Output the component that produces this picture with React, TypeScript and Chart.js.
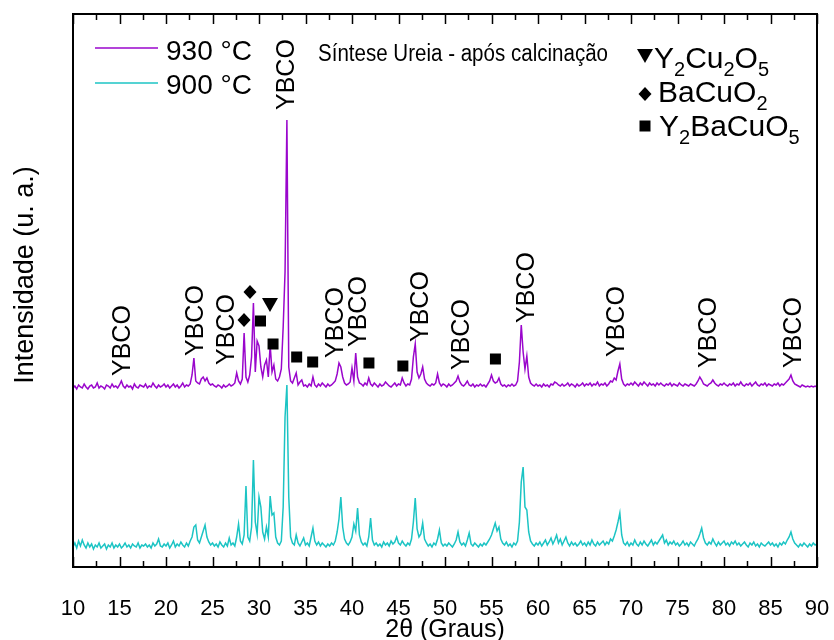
import React, { useEffect, useRef } from "react";
import { Chart, registerables } from "chart.js";

Chart.register(...registerables);

const FONT = "'Liberation Sans', Arial, Helvetica, sans-serif";

// 2θ grid: 10° → 90° in 0.2° steps
const ANGLE_START = 10;
const ANGLE_STEP = 0.2;

// Intensity (a.u., offset-stacked), 930 °C sample
const I_930 = [
  179,181,178,182,180,179,183,180,178,181,182,179,180,184,179,181,180,178,182,181,179,183,180,181,179,
  182,186,181,179,182,180,181,178,183,180,179,182,181,180,183,179,181,180,184,181,179,182,180,181,183,
  180,182,179,181,183,180,182,179,181,184,180,182,181,183,192,209,186,184,183,188,190,186,189,184,182,
  183,181,180,182,181,179,182,180,181,183,181,182,184,194,186,183,188,234,190,185,192,210,264,195,226,
  221,200,190,202,207,190,222,195,202,188,186,190,198,240,295,447,200,186,184,189,194,182,185,187,181,
  182,180,183,181,190,182,180,183,181,184,182,180,183,181,182,184,186,193,204,200,190,184,182,183,185,
  199,186,214,190,184,183,181,184,182,189,183,181,184,182,180,183,181,182,185,183,181,180,182,184,181,
  183,182,189,184,181,183,182,188,210,223,195,189,193,200,188,184,182,181,183,182,184,193,184,181,183,
  182,180,183,181,182,184,186,191,185,182,181,183,186,182,181,183,180,182,181,183,181,182,180,183,186,
  192,186,184,185,189,183,181,182,180,182,181,183,181,182,186,205,242,215,198,211,190,184,182,181,183,
  181,182,180,183,181,182,180,183,182,185,184,182,181,183,181,182,184,181,183,182,180,183,181,182,184,
  181,183,182,184,181,183,182,185,181,183,182,184,181,183,186,185,189,187,196,203,188,183,181,183,182,
  184,182,185,183,181,184,182,185,183,181,184,182,183,181,184,182,184,182,181,183,182,184,181,183,182,
  181,184,182,181,183,182,181,183,182,181,183,186,190,187,183,182,181,183,184,187,184,182,181,183,182,
  184,182,181,183,182,184,181,183,182,185,182,181,183,182,184,181,183,185,182,181,183,182,184,181,183,
  182,181,183,182,184,181,183,182,184,186,188,192,186,183,182,181,180,182,181,180,181,180,181,180,181,180,
];

// Intensity (a.u.), 900 °C sample
const I_900 = [
  20,24,19,26,21,27,22,19,24,20,23,18,22,20,24,19,21,23,18,22,20,24,19,22,20,
  23,19,21,24,20,22,19,23,21,20,24,19,22,21,23,20,22,19,24,21,23,28,21,20,23,
  21,24,19,22,26,20,23,21,25,22,20,24,21,26,30,40,42,27,24,30,36,42,30,25,22,
  24,21,23,20,25,22,20,24,21,29,22,24,21,30,43,26,23,32,81,30,26,40,107,45,33,
  70,60,35,28,40,30,71,52,54,30,24,22,26,60,150,182,70,30,24,22,32,24,21,25,29,
  22,24,21,30,39,26,22,25,21,24,22,20,23,21,24,22,26,35,48,70,40,28,24,22,25,
  30,43,36,59,32,25,22,24,21,30,49,27,22,24,21,23,20,25,22,24,21,26,23,25,30,
  24,22,26,23,21,24,22,28,45,69,38,30,33,44,28,24,21,23,20,24,22,28,37,24,21,
  23,21,24,22,20,23,27,35,25,22,24,21,27,34,23,21,24,22,20,23,21,24,22,25,28,
  32,38,44,36,40,28,24,22,25,21,23,20,24,22,26,45,85,100,60,57,35,26,23,21,24,
  22,25,21,24,27,22,25,29,23,27,32,24,28,22,26,30,24,21,25,22,24,21,23,26,22,
  24,21,25,22,27,23,21,25,22,24,26,22,25,23,28,26,31,37,45,54,32,24,22,25,21,
  24,22,27,23,21,25,22,26,23,21,24,27,22,25,23,26,29,32,24,27,22,25,23,26,22,
  24,21,23,26,22,24,21,25,23,21,25,28,33,39,29,24,22,25,23,28,24,21,25,22,24,
  26,22,24,21,25,23,26,22,24,21,23,25,22,20,24,22,25,21,23,20,24,22,21,23,25,
  22,24,21,23,20,24,22,25,23,27,30,35,28,24,22,20,23,21,24,22,20,23,21,24,22,23,
];

const X_TICKS = [10, 15, 20, 25, 30, 35, 40, 45, 50, 55, 60, 65, 70, 75, 80, 85, 90];
const X_MINOR = [12.5, 17.5, 22.5, 27.5, 32.5, 37.5, 42.5, 47.5, 52.5, 57.5, 62.5, 67.5, 72.5, 77.5, 82.5, 87.5];

// "YBCO" peak labels: 2θ position and intensity at which the label starts
const YBCO_X = [15.38, 23.23, 26.56, 33.0, 38.28, 40.75, 47.42, 51.83, 58.82, 68.49, 78.39, 87.53];
const YBCO_Y = [191, 211, 202, 457, 209, 220, 225, 197, 244, 210, 199, 199];

// phase markers
const MARK_KIND = ["diamond", "diamond", "square", "triangle", "square", "square", "square", "square", "square", "square"];
const MARK_X = [29.03, 28.39, 30.16, 31.18, 31.51, 34.05, 35.77, 41.82, 45.47, 55.42];
const MARK_Y = [275, 247, 246, 262, 223, 210, 205, 204, 201, 208];

const SERIES_LABELS = ["930 °C", "900 °C"];
const SERIES_COLORS = ["#9a06cc", "#1cc4c4"];
const PHASES: [string, boolean][][] = [
  [["Y", false], ["2", true], ["Cu", false], ["2", true], ["O", false], ["5", true]],
  [["BaCuO", false], ["2", true]],
  [["Y", false], ["2", true], ["BaCuO", false], ["5", true]],
];
const PHASE_KIND = ["triangle", "diamond", "square"];

function drawMarker(ctx: CanvasRenderingContext2D, kind: string, x: number, y: number) {
  ctx.beginPath();
  if (kind === "diamond") {
    ctx.moveTo(x, y - 7); ctx.lineTo(x + 6.5, y); ctx.lineTo(x, y + 7); ctx.lineTo(x - 6.5, y);
  } else if (kind === "square") {
    ctx.rect(x - 5.5, y - 5.5, 11, 11);
  } else {
    ctx.moveTo(x - 8, y - 7); ctx.lineTo(x + 8, y - 7); ctx.lineTo(x, y + 7);
  }
  ctx.closePath();
  ctx.fill();
}

const decorPlugin = {
  id: "decor",
  afterDatasetsDraw(chart: any) {
    const { ctx, chartArea: a, scales } = chart;
    const xs = scales.x, ys = scales.y;
    ctx.save();
    ctx.strokeStyle = "#000";
    ctx.fillStyle = "#000";
    // frame
    ctx.lineWidth = 2;
    ctx.strokeRect(a.left, a.top, a.right - a.left, a.bottom - a.top);
    // ticks (inside, bottom & top)
    ctx.lineWidth = 1.5;
    ctx.beginPath();
    for (const t of X_TICKS) {
      const px = Math.round(xs.getPixelForValue(t)) + 0.5;
      ctx.moveTo(px, a.bottom); ctx.lineTo(px, a.bottom - 10);
      ctx.moveTo(px, a.top); ctx.lineTo(px, a.top + 10);
    }
    for (const t of X_MINOR) {
      const px = Math.round(xs.getPixelForValue(t)) + 0.5;
      ctx.moveTo(px, a.bottom); ctx.lineTo(px, a.bottom - 6);
      ctx.moveTo(px, a.top); ctx.lineTo(px, a.top + 6);
    }
    ctx.stroke();
    // tick labels
    ctx.font = `22px ${FONT}`;
    ctx.textAlign = "center";
    ctx.textBaseline = "alphabetic";
    for (const t of X_TICKS) ctx.fillText(String(t), xs.getPixelForValue(t), a.bottom + 48);
    // axis titles
    ctx.font = `25px ${FONT}`;
    ctx.fillText("2θ (Graus)", (a.left + a.right) / 2, a.bottom + 70);
    ctx.save();
    ctx.translate(33, 275);
    ctx.rotate(-Math.PI / 2);
    ctx.font = `27px ${FONT}`;
    ctx.fillText("Intensidade (u. a.)", 0, 0);
    ctx.restore();

    // YBCO labels
    ctx.font = `25px ${FONT}`;
    ctx.textAlign = "left";
    ctx.textBaseline = "middle";
    YBCO_X.forEach((x, i) => {
      ctx.save();
      ctx.translate(xs.getPixelForValue(x), ys.getPixelForValue(YBCO_Y[i]));
      ctx.rotate(-Math.PI / 2);
      ctx.fillText("YBCO", 0, 0);
      ctx.restore();
    });
    // phase markers
    MARK_X.forEach((x, i) => drawMarker(ctx, MARK_KIND[i], xs.getPixelForValue(x), ys.getPixelForValue(MARK_Y[i])));

    // series legend
    ctx.textBaseline = "alphabetic";
    ctx.textAlign = "left";
    ctx.font = `28px ${FONT}`;
    SERIES_LABELS.forEach((lab, i) => {
      const y = [48, 83][i];
      ctx.strokeStyle = SERIES_COLORS[i];
      ctx.lineWidth = 1.5;
      ctx.beginPath(); ctx.moveTo(95, y); ctx.lineTo(158, y); ctx.stroke();
      ctx.fillText(lab, 166, [60, 94][i]);
    });
    // title
    ctx.font = `23px ${FONT}`;
    ctx.fillText("Síntese Ureia - após calcinação", 318, 61, 290);

    // phase legend
    PHASES.forEach((segs, i) => {
      const base = [68, 102, 136][i];
      drawMarker(ctx, PHASE_KIND[i], 645, [56, 94, 126][i]);
      let x = [654, 658, 659][i];
      for (const [s, sub] of segs) {
        ctx.font = sub ? `20px ${FONT}` : `30px ${FONT}`;
        ctx.fillText(s, x, sub ? base + 8 : base);
        x += ctx.measureText(s).width;
      }
    });
    ctx.restore();
  },
};

export default function App() {
  const ref = useRef<HTMLCanvasElement>(null);
  useEffect(() => {
    if (!ref.current) return;
    const angles = I_930.map((_, i) => ANGLE_START + i * ANGLE_STEP);
    const chart = new Chart(ref.current, {
      type: "line",
      data: {
        datasets: [
          {
            label: SERIES_LABELS[0],
            data: angles.map((a, i) => ({ x: a, y: I_930[i] })),
            borderColor: SERIES_COLORS[0],
            borderWidth: 1.5,
            pointRadius: 0,
            tension: 0,
          },
          {
            label: SERIES_LABELS[1],
            data: angles.map((a, i) => ({ x: a, y: I_900[i] })),
            borderColor: SERIES_COLORS[1],
            borderWidth: 1.5,
            pointRadius: 0,
            tension: 0,
          },
        ],
      },
      options: {
        responsive: false,
        animation: false,
        layout: { padding: { left: 73, right: 17, top: 14, bottom: 73 } },
        plugins: { legend: { display: false }, tooltip: { enabled: false } },
        scales: {
          x: { type: "linear", min: 10, max: 90, display: false },
          y: { type: "linear", min: 0, max: 553, display: false },
        },
      },
      plugins: [decorPlugin],
    });
    return () => chart.destroy();
  }, []);
  return (
    <div style={{ position: "absolute", left: 0, top: 0, width: 834, height: 640, background: "#fff" }}>
      <canvas ref={ref} width={834} height={640} />
    </div>
  );
}
